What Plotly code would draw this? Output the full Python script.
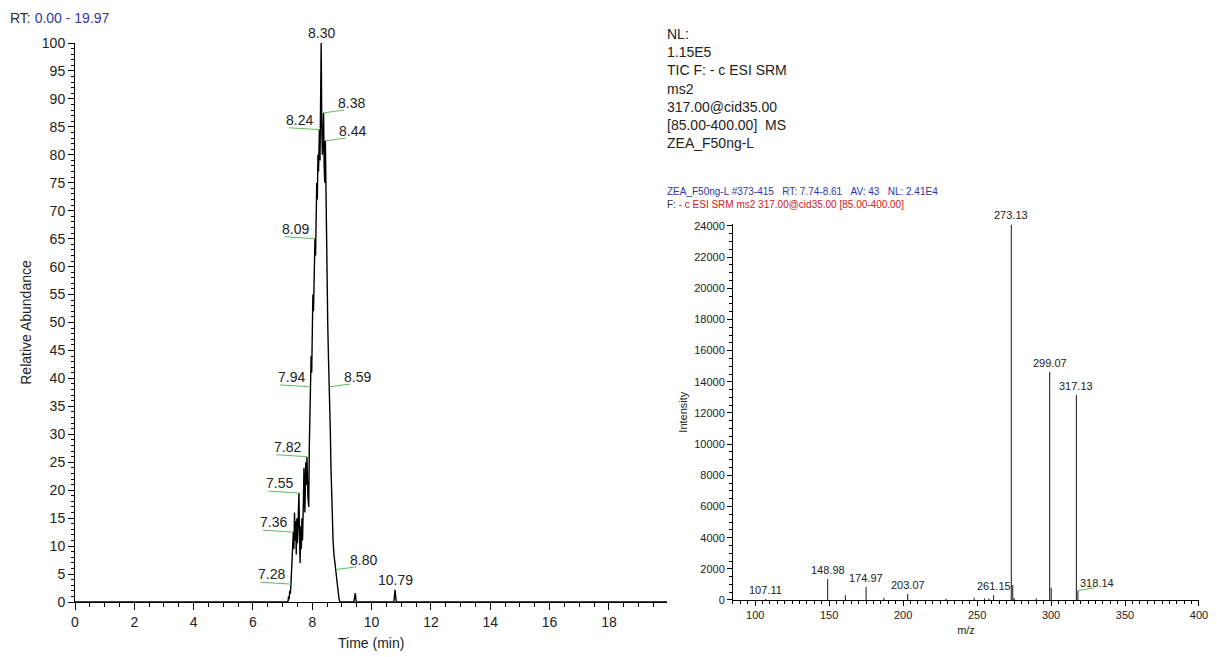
import plotly.graph_objects as go

# ---------------- data ----------------
# chromatogram (TIC), relative abundance vs retention time
rt_min = [0.00, 1.00, 2.00, 3.00, 4.00, 5.00, 6.00, 7.00, 7.18, 7.20, 7.22, 7.24, 7.26,
          7.28, 7.30, 7.32, 7.34, 7.36, 7.38, 7.40, 7.42, 7.44, 7.46, 7.48, 7.50, 7.52,
          7.55, 7.57, 7.59, 7.61, 7.63, 7.65, 7.67, 7.70, 7.72, 7.75, 7.78, 7.80, 7.82,
          7.85, 7.88, 7.90, 7.92, 7.94, 7.96, 7.98, 8.00, 8.02, 8.04, 8.06, 8.09, 8.11,
          8.13, 8.15, 8.17, 8.19, 8.21, 8.24, 8.26, 8.28, 8.30, 8.32, 8.34, 8.36, 8.38,
          8.40, 8.42, 8.44, 8.46, 8.48, 8.50, 8.52, 8.54, 8.56, 8.59, 8.61, 8.63, 8.65,
          8.67, 8.70, 8.73, 8.76, 8.80, 8.83, 8.86, 8.90, 8.93, 9.00, 9.40, 9.45, 9.48,
          10.00, 10.75, 10.79, 10.83, 12.00, 14.00, 16.00, 18.00, 19.97]
rel_abund = [0, 0, 0, 0, 0, 0, 0, 0, 0, 1.0, 0.5, 2.0, 1.5,
             3.2, 5.5, 8.5, 11.0, 12.5, 9.5, 16.0, 11.0, 14.5, 8.5, 15.0, 10.5, 16.5,
             19.5, 12.0, 7.0, 13.5, 9.5, 15.0, 11.0, 18.0, 24.0, 16.0, 25.0, 21.0, 26.0,
             19.0, 17.0, 28.0, 33.0, 38.5, 44.0, 41.0, 49.0, 55.0, 52.0, 61.0, 65.0, 62.0,
             70.0, 75.0, 72.0, 80.0, 77.0, 84.5, 79.0, 88.0, 100.0, 85.0, 80.0, 83.0, 87.5,
             78.0, 75.0, 82.5, 72.0, 64.0, 57.0, 50.0, 45.0, 41.0, 38.5, 30.0, 24.0, 19.0,
             15.0, 11.0, 8.5, 7.0, 5.8, 3.5, 1.8, 0.6, 0, 0, 0, 1.6, 0,
             0, 0, 2.2, 0, 0, 0, 0, 0, 0]
chrom_labels = [7.28, 7.36, 7.55, 7.82, 7.94, 8.09, 8.24, 8.30, 8.38, 8.44, 8.59, 8.80, 10.79]

# mass spectrum
mz = [107.11, 148.98, 161.0, 174.97, 187.0, 203.07, 229.0, 248.0, 255.0, 258.0, 261.15,
      273.13, 274.1, 275.1, 290.0, 299.07, 300.1, 317.13, 318.14]
intensity = [60, 1350, 300, 830, 150, 380, 80, 150, 100, 90, 300,
             24100, 960, 120, 100, 14630, 780, 13150, 600]
ms_labels = [107.11, 148.98, 174.97, 203.07, 261.15, 273.13, 299.07, 317.13, 318.14]

x1_ticks = [0, 2, 4, 6, 8, 10, 12, 14, 16, 18]
x2_ticks = [100, 150, 200, 250, 300, 350, 400]

info_lines = ["NL:", "1.15E5", "TIC F: - c ESI SRM", "ms2", "317.00@cid35.00",
              "[85.00-400.00]\u00a0\u00a0MS", "ZEA_F50ng-L"]

# ---------------- styles ----------------
FONT = "Liberation Sans, Arial, sans-serif"
TXT = "#222222"
GREEN = "#5cbf5c"
BLUE = "#3434a8"
chrom_side = {7.28: "left", 7.36: "left", 7.55: "left", 7.82: "left", 7.94: "left",
              8.09: "left", 8.24: "left", 8.30: "top", 8.38: "right", 8.44: "right",
              8.59: "right", 8.80: "right", 10.79: "top"}
ms_side = {318.14: "right"}

fig = go.Figure()

fig.add_trace(go.Scatter(x=rt_min, y=rel_abund, mode="lines",
                         line=dict(color="black", width=1.4),
                         xaxis="x", yaxis="y", hoverinfo="skip"))

stick_x, stick_y = [], []
for m, h in zip(mz, intensity):
    stick_x += [m, m, None]
    stick_y += [0, h, None]
fig.add_trace(go.Scatter(x=stick_x, y=stick_y, mode="lines",
                         line=dict(color="#2a2a2a", width=1.1),
                         xaxis="x2", yaxis="y2", hoverinfo="skip"))

ann = []
for t in chrom_labels:
    a = rel_abund[rt_min.index(t)]
    side = chrom_side[t]
    lbl = f"{t:.2f}"
    if side == "top":
        ann.append(dict(x=t, y=a, xref="x", yref="y", text=lbl, showarrow=False,
                        xanchor="center", yanchor="bottom", yshift=0,
                        font=dict(family=FONT, size=14, color=TXT)))
    elif side == "left":
        ann.append(dict(x=t, y=a, xref="x", yref="y", text=lbl, showarrow=False,
                        xanchor="right", yanchor="bottom", xshift=-4, yshift=0,
                        font=dict(family=FONT, size=14, color=TXT)))
        ann.append(dict(x=t, y=a, xref="x", yref="y", text=" ", showarrow=True,
                        arrowhead=0, arrowwidth=1, arrowcolor=GREEN, ax=-32, ay=-2,
                        standoff=0, startstandoff=0, font=dict(size=1)))
    else:
        ann.append(dict(x=t, y=a, xref="x", yref="y", text=lbl, showarrow=False,
                        xanchor="left", yanchor="bottom", xshift=12, yshift=0,
                        font=dict(family=FONT, size=14, color=TXT)))
        ann.append(dict(x=t, y=a, xref="x", yref="y", text=" ", showarrow=True,
                        arrowhead=0, arrowwidth=1, arrowcolor=GREEN, ax=22, ay=-3,
                        standoff=0, startstandoff=0, font=dict(size=1)))

for m in ms_labels:
    h = intensity[mz.index(m)]
    lbl = f"{m:.2f}"
    if ms_side.get(m) == "right":
        ann.append(dict(x=m, y=h, xref="x2", yref="y2", text=lbl, showarrow=False,
                        xanchor="left", yanchor="bottom", xshift=0, yshift=0,
                        font=dict(family=FONT, size=11, color=TXT)))
        ann.append(dict(x=m, y=h, xref="x2", yref="y2", text=" ", showarrow=True,
                        arrowhead=0, arrowwidth=1, arrowcolor=GREEN, ax=18, ay=-3,
                        standoff=0, startstandoff=0, font=dict(size=1)))
    else:
        ann.append(dict(x=m, y=h, xref="x2", yref="y2", text=lbl, showarrow=False,
                        xanchor="center", yanchor="bottom", yshift=1,
                        font=dict(family=FONT, size=11, color=TXT)))

# header texts
ann.append(dict(x=-0.0596, y=1.0626, xref="paper", yref="paper", xanchor="left", yanchor="top",
                showarrow=False, align="left",
                text=f"RT:\u00a0<span style='color:{BLUE}'>0.00 - 19.97</span>",
                font=dict(family=FONT, size=14, color="#333333")))
ann.append(dict(x=(665 - 75) / 1124, y=(602 - 24) / 559, xref="paper", yref="paper",
                xanchor="left", yanchor="top", showarrow=False, align="left",
                text="<br>".join(info_lines),
                font=dict(family=FONT, size=14, color="#222222")))
nb = "\u00a0"
line1 = (f"<span style='color:{BLUE}'>ZEA_F50ng-L #373-415{nb*3}RT:{nb}7.74-8.61{nb*3}"
         f"AV:{nb}43{nb*3}NL:{nb}2.41E4</span>")
line2 = "F:<span style='color:#d02020'>" + nb + "- c ESI SRM ms2 317.00@cid35.00 [85.00-400.00]</span>"
ann.append(dict(x=(665 - 75) / 1124, y=(602 - 184) / 559, xref="paper", yref="paper",
                xanchor="left", yanchor="top", showarrow=False, align="left",
                text=line1 + "<br>" + line2,
                font=dict(family=FONT, size=10, color="#333333")))

axis_common = dict(showgrid=False, zeroline=False, showline=True, linecolor="black",
                   linewidth=1, ticks="outside", tickcolor="black", tickwidth=1,
                   automargin=False)

# the page body adds an 8px offset, so the figure is sized to fit the window
fig.update_layout(
    width=1209, height=649,
    margin=dict(l=67, r=18, t=35, b=55, autoexpand=False),
    paper_bgcolor="white", plot_bgcolor="white",
    showlegend=False,
    font=dict(family=FONT, color=TXT),
    xaxis=dict(domain=[0, 0.527], range=[0, 19.97], tickvals=x1_ticks, ticklen=7,
               minor=dict(dtick=0.5, ticklen=4, ticks="outside", tickcolor="black"),
               tickfont=dict(size=14, family=FONT, color=TXT),
               title=dict(text="Time (min)", font=dict(size=14, family=FONT, color=TXT), standoff=9),
               anchor="y", **axis_common),
    yaxis=dict(domain=[0, 1], range=[0, 100], dtick=5, ticklen=6,
               minor=dict(dtick=1, ticklen=3, ticks="outside", tickcolor="black"),
               tickfont=dict(size=14, family=FONT, color=TXT),
               title=dict(text="Relative Abundance", font=dict(size=14, family=FONT, color=TXT), standoff=6),
               anchor="x", **axis_common),
    xaxis2=dict(domain=[0.5854, 1], range=[85, 400], tickvals=x2_ticks, ticklen=5,
                minor=dict(dtick=5, ticklen=3, ticks="outside", tickcolor="black"),
                tickfont=dict(size=11, family=FONT, color=TXT),
                title=dict(text="m/z", font=dict(size=11, family=FONT, color=TXT), standoff=6),
                anchor="y2", **axis_common),
    yaxis2=dict(domain=[0.0036, 0.6755], range=[0, 24100], dtick=2000, ticklen=5,
                tickformat="d",
                minor=dict(dtick=500, ticklen=3, ticks="outside", tickcolor="black"),
                tickfont=dict(size=11, family=FONT, color=TXT),
                title=dict(text="Intensity", font=dict(size=11, family=FONT, color=TXT), standoff=4),
                anchor="x2", **axis_common),
    annotations=ann,
)

fig.write_html("out.html")
